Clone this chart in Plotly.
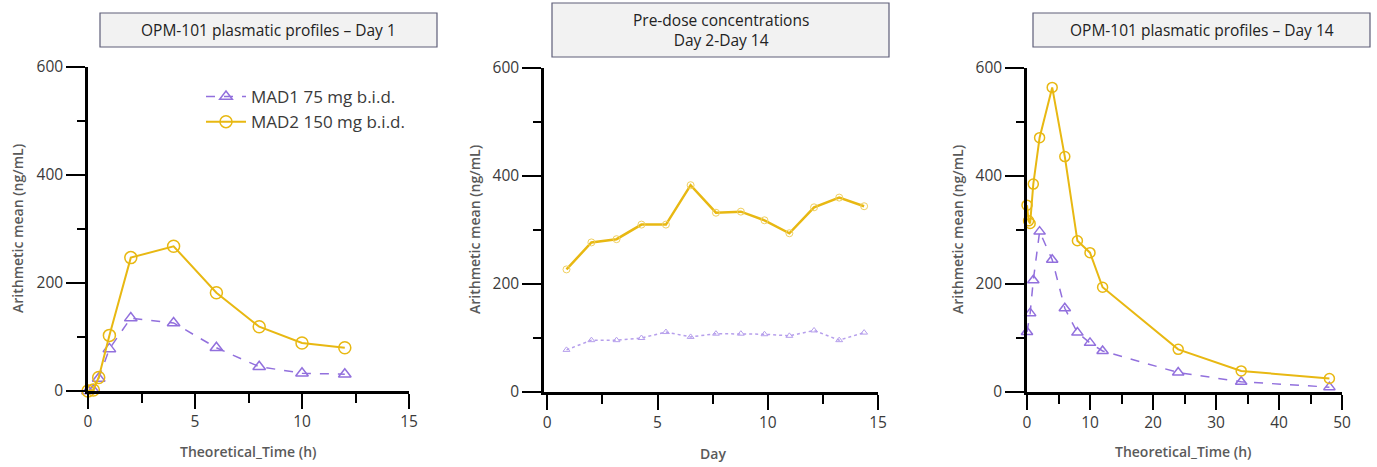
import plotly.graph_objects as go

# ---------------- data ----------------
series_names = ["MAD1 75 mg b.i.d.", "MAD2 150 mg b.i.d."]

day1_time_mad1 = [0, 0.25, 0.5, 1, 2, 4, 6, 8, 10, 12]
day1_mad1 = [0, 1, 23, 78, 135, 126, 80, 45, 33, 31]
day1_time_mad2 = [0, 0.25, 0.5, 1, 2, 4, 6, 8, 10, 12]
day1_mad2 = [0, 2, 25, 103, 247, 268, 182, 119, 89, 80]

predose_day = [0.87, 2.0, 3.14, 4.27, 5.38, 6.5, 7.65, 8.78, 9.85, 10.98, 12.1, 13.24, 14.37]
predose_mad1 = [78, 96, 96, 100, 111, 102, 108, 108, 107, 104, 114, 96, 110]
predose_mad2 = [227, 277, 283, 310, 310, 383, 332, 334, 318, 294, 342, 360, 344]

day14_time_mad1 = [0, 0.5, 1, 2, 4, 6, 8, 10, 12, 24, 34, 48]
day14_mad1 = [111, 146, 207, 297, 245, 155, 110, 91, 76, 36, 19, 9]
day14_time_mad2 = [0, 0.25, 0.5, 1, 2, 4, 6, 8, 10, 12, 24, 34, 48]
day14_mad2 = [346, 317, 312, 385, 471, 564, 436, 280, 258, 194, 79, 39, 25]

panel_titles = ["OPM-101 plasmatic profiles \u2013 Day 1",
                "Pre-dose concentrations<br>Day 2-Day 14",
                "OPM-101 plasmatic profiles \u2013 Day 14"]
x_titles = ["Theoretical_Time (h)", "Day", "Theoretical_Time (h)"]
y_title = "Arithmetic mean (ng/mL)"

# ---------------- style ----------------
W, H = 1377, 467
PURPLE = "#9270DD"
PURPLE_LIGHT = "#B69FEC"
GOLD = "#E8B812"
FONT = "Open Sans"
TICKCOL = "#3a3a3a"
TITLECOL = "#5a5a5a"


def px_x(p):
    return p / W


def px_y(p):
    return 1 - p / H


fig = go.Figure()

# Panel 1
fig.add_trace(go.Scatter(x=day1_time_mad1, y=day1_mad1, name=series_names[0], mode="lines+markers",
                         line=dict(color=PURPLE, width=1.5, dash="dash"),
                         marker=dict(symbol="triangle-up-open", size=11, color=PURPLE, line=dict(width=1.5)),
                         cliponaxis=False, xaxis="x", yaxis="y", showlegend=True))
fig.add_trace(go.Scatter(x=day1_time_mad2, y=day1_mad2, name=series_names[1], mode="lines+markers",
                         line=dict(color=GOLD, width=2),
                         marker=dict(symbol="circle-open", size=12, color=GOLD, line=dict(width=1.5)),
                         cliponaxis=False, xaxis="x", yaxis="y", showlegend=True))
# Panel 2
fig.add_trace(go.Scatter(x=predose_day, y=predose_mad1, name=series_names[0], mode="lines+markers",
                         line=dict(color=PURPLE_LIGHT, width=1.5, dash="dot"),
                         marker=dict(symbol="triangle-up-open", size=6, color=PURPLE_LIGHT, line=dict(width=1)),
                         cliponaxis=False, xaxis="x2", yaxis="y2", showlegend=False))
fig.add_trace(go.Scatter(x=predose_day, y=predose_mad2, name=series_names[1], mode="lines+markers",
                         line=dict(color=GOLD, width=2.5),
                         marker=dict(symbol="circle-open", size=7, color="#F0D060", line=dict(width=1)),
                         cliponaxis=False, xaxis="x2", yaxis="y2", showlegend=False))
# Panel 3
fig.add_trace(go.Scatter(x=day14_time_mad1, y=day14_mad1, name=series_names[0], mode="lines+markers",
                         line=dict(color=PURPLE, width=1.5, dash="dash"),
                         marker=dict(symbol="triangle-up-open", size=10, color=PURPLE, line=dict(width=1.5)),
                         cliponaxis=False, xaxis="x3", yaxis="y3", showlegend=False))
fig.add_trace(go.Scatter(x=day14_time_mad2, y=day14_mad2, name=series_names[1], mode="lines+markers",
                         line=dict(color=GOLD, width=2),
                         marker=dict(symbol="circle-open", size=10, color=GOLD, line=dict(width=1.5)),
                         cliponaxis=False, xaxis="x3", yaxis="y3", showlegend=False))

panels = [
    dict(xd=(88, 409), yd=(67, 391), xr=[0, 15], xdt=5, xminor=2.5),
    dict(xd=(544, 878), yd=(68, 392), xr=[-0.15, 15], xdt=5, xminor=2.5),
    dict(xd=(1027, 1342), yd=(68, 392), xr=[0, 50], xdt=10, xminor=5),
]

layout = dict(
    width=W, height=H, margin=dict(l=0, r=0, t=0, b=0, pad=0, autoexpand=False),
    paper_bgcolor="white", plot_bgcolor="white",
    font=dict(family=FONT, color=TICKCOL, size=14),
    legend=dict(x=px_x(201), y=px_y(79), xanchor="left", yanchor="top",
                font=dict(family=FONT, size=17, color="#3a3a3a"),
                bgcolor="rgba(0,0,0,0)", itemwidth=40, tracegroupgap=0),
)

for i, p in enumerate(panels):
    sfx = "" if i == 0 else str(i + 1)
    layout["xaxis" + sfx] = dict(
        domain=[px_x(p["xd"][0]), px_x(p["xd"][1])], range=p["xr"],
        anchor="y" + sfx, showgrid=False, zeroline=False,
        showline=True, linecolor="black", linewidth=2.5,
        ticks="outside", ticklen=15, tickwidth=1.5, tickcolor="black",
        dtick=p["xdt"], tick0=0,
        minor=dict(ticks="outside", ticklen=9, tickwidth=1.5, tickcolor="black", dtick=p["xminor"], tick0=0),
        tickfont=dict(family=FONT, size=15.5, color=TICKCOL), fixedrange=True, automargin=False,
    )
    layout["yaxis" + sfx] = dict(
        domain=[px_y(p["yd"][1]), px_y(p["yd"][0])], range=[0, 600],
        anchor="x" + sfx, showgrid=False, zeroline=False,
        showline=True, linecolor="black", linewidth=2.5,
        ticks="outside", ticklen=19, tickwidth=1.5, tickcolor="black",
        dtick=200, tick0=0,
        minor=dict(ticks="outside", ticklen=8, tickwidth=1.5, tickcolor="black", dtick=100, tick0=0),
        tickfont=dict(family=FONT, size=15.5, color=TICKCOL), fixedrange=True, automargin=False,
    )

fig.update_layout(**layout)

# title boxes
boxes = [(100, 13, 437, 47), (552, 3, 889, 57), (1033, 13, 1370, 47)]
for (x0, y0, x1, y1), t in zip(boxes, panel_titles):
    fig.add_shape(type="rect", xref="paper", yref="paper",
                  x0=px_x(x0), x1=px_x(x1), y0=px_y(y1), y1=px_y(y0),
                  fillcolor="#F2F2F2", line=dict(color="#5E5E78", width=1.2), layer="below")
    fig.add_annotation(xref="paper", yref="paper", x=px_x((x0 + x1) / 2), y=px_y((y0 + y1) / 2),
                       text=t, showarrow=False, xanchor="center", yanchor="middle",
                       font=dict(family=FONT, size=15.5, color="#222222"))

# axis titles
ytitle_x = [18, 475, 958]
xtitle_pos = [(248, 451), (713, 453), (1183, 451)]
for i, p in enumerate(panels):
    cy = (p["yd"][0] + p["yd"][1]) / 2
    fig.add_annotation(xref="paper", yref="paper", x=px_x(ytitle_x[i]), y=px_y(cy),
                       text=y_title, textangle=-90, showarrow=False,
                       xanchor="center", yanchor="middle",
                       font=dict(family=FONT, size=14, color=TITLECOL, weight=600))
    fig.add_annotation(xref="paper", yref="paper", x=px_x(xtitle_pos[i][0]), y=px_y(xtitle_pos[i][1]),
                       text=x_titles[i], showarrow=False, xanchor="center", yanchor="middle",
                       font=dict(family=FONT, size=14, color=TITLECOL, weight=600))

fig.write_html("out.html")
